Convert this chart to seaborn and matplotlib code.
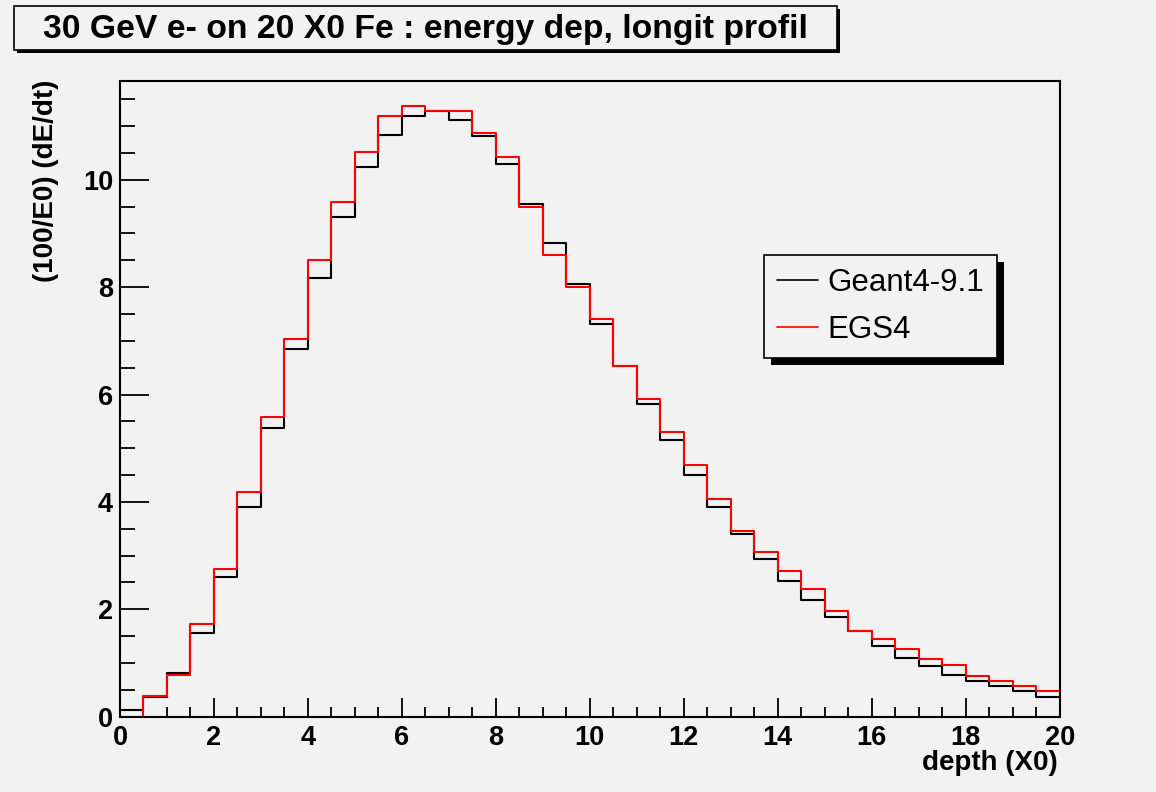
import numpy as np
import pandas as pd
import matplotlib
matplotlib.use("Agg")
import matplotlib.pyplot as plt
import seaborn as sns
from matplotlib.patches import Rectangle
from matplotlib.ticker import MultipleLocator

# ===============================
# DATOS
# ===============================

bin_edges = np.arange(0, 20.5, 0.5)
bin_centers = bin_edges[:-1] + 0.25

geant4 = [0.12, 0.37, 0.82, 1.56, 2.61, 3.91, 5.37, 6.84, 8.18, 9.31,
          10.23, 10.84, 11.18, 11.28, 11.12, 10.81, 10.29, 9.55, 8.82, 8.05,
          7.32, 6.54, 5.82, 5.15, 4.51, 3.90, 3.40, 2.94, 2.53, 2.18,
          1.86, 1.59, 1.32, 1.10, 0.94, 0.78, 0.67, 0.58, 0.48, 0.36]

egs4 = [0.0, 0.39, 0.77, 1.72, 2.76, 4.18, 5.58, 7.03, 8.50, 9.58,
        10.51, 11.18, 11.38, 11.28, 11.28, 10.87, 10.42, 9.50, 8.59, 8.00,
        7.40, 6.54, 5.91, 5.30, 4.69, 4.06, 3.45, 3.06, 2.71, 2.37,
        1.96, 1.59, 1.45, 1.26, 1.07, 0.97, 0.76, 0.66, 0.57, 0.48]

series_names = ["Geant4-9.1", "EGS4"]
series_colors = ["black", "red"]

title_text = "30 GeV e- on 20 X0 Fe : energy dep, longit profil"
x_label = "depth (X0)"
y_label = "(100/E0) (dE/dt)"

# ===============================
# ESTILO
# ===============================

sns.set_style("ticks")
plt.rcParams["font.family"] = ["Liberation Sans", "DejaVu Sans"]
plt.rcParams["text.color"] = "black"
plt.rcParams["xtick.color"] = "black"
plt.rcParams["ytick.color"] = "black"
plt.rcParams["xtick.labelcolor"] = "black"
plt.rcParams["ytick.labelcolor"] = "black"

bg = "#f2f2f2"
W, H = 1156, 792

fig = plt.figure(figsize=(W / 100, H / 100), dpi=100, facecolor=bg)
ax = fig.add_axes([120 / W, 1 - 716.7 / H, (1059.7 - 120) / W, (716.7 - 81) / H])
ax.set_facecolor(bg)

# ===============================
# HISTOGRAMAS
# ===============================

for values, name, color in zip([geant4, egs4], series_names, series_colors):
    df = pd.DataFrame({"depth": bin_centers, "dedt": values})
    sns.histplot(
        data=df,
        x="depth",
        weights="dedt",
        binwidth=0.5,
        binrange=(0, 20),
        element="step",
        fill=False,
        color=color,
        linewidth=1.5,
        label=name,
        ax=ax
    )

ax.set_xlim(0, 20)
ax.set_ylim(0, 11.84)
ax.set_xlabel("")
ax.set_ylabel("")

for side in ["left", "right", "top", "bottom"]:
    ax.spines[side].set_visible(True)
    ax.spines[side].set_linewidth(1.5)
    ax.spines[side].set_color("black")

ax.xaxis.set_major_locator(MultipleLocator(2))
ax.xaxis.set_minor_locator(MultipleLocator(0.5))
ax.yaxis.set_major_locator(MultipleLocator(2))
ax.yaxis.set_minor_locator(MultipleLocator(0.5))

ax.tick_params(axis="x", which="major", direction="in", length=13.5, width=1.3, pad=6, labelsize=19.5)
ax.tick_params(axis="x", which="minor", direction="in", length=7, width=1.3)
ax.tick_params(axis="y", which="major", direction="in", length=21, width=1.3, pad=5, labelsize=19.5)
ax.tick_params(axis="y", which="minor", direction="in", length=11, width=1.3)
for lab in ax.get_xticklabels() + ax.get_yticklabels():
    lab.set_fontweight("bold")

fig.text(1058 / W, 1 - 770 / H, x_label, ha="right", va="baseline",
         fontsize=20, fontweight="bold")
fig.text(46 / W, 1 - 80 / H, y_label, ha="center", va="top", rotation=90,
         fontsize=20, fontweight="bold")

# ===============================
# LEYENDA
# ===============================

leg = ax.legend(
    loc="upper left",
    bbox_to_anchor=(764 / W, 1 - 255 / H),
    bbox_transform=fig.transFigure,
    borderaxespad=0,
    fontsize=22.5,
    fancybox=False,
    framealpha=1,
    facecolor=bg,
    edgecolor="black",
    handlelength=1.3,
    handletextpad=0.3,
    labelspacing=0.55,
    borderpad=0.42
)
leg.get_frame().set_linewidth(1.2)
for line in leg.get_lines():
    line.set_linewidth(1.2)

fig.canvas.draw()
bb = leg.get_window_extent()
shadow = Rectangle((bb.x0 + 7, bb.y0 - 7), bb.width, bb.height,
                   transform=None, facecolor="black", edgecolor="none",
                   zorder=4.9, clip_on=False)
ax.add_patch(shadow)

# ===============================
# TITULO
# ===============================

fig.add_artist(Rectangle((17 / W, 1 - 53 / H), (837 - 14) / W, (50 - 6) / H,
                         transform=fig.transFigure, facecolor="black",
                         edgecolor="none", zorder=1))
fig.add_artist(Rectangle((14 / W, 1 - 50 / H), (837 - 14) / W, (50 - 6) / H,
                         transform=fig.transFigure, facecolor=bg,
                         edgecolor="black", linewidth=1.2, zorder=2))
fig.text(425.5 / W, 1 - 38 / H, title_text, ha="center", va="baseline",
         fontsize=24.3, fontweight="bold", zorder=3)

fig.savefig("out.png", dpi=100, facecolor=bg)
